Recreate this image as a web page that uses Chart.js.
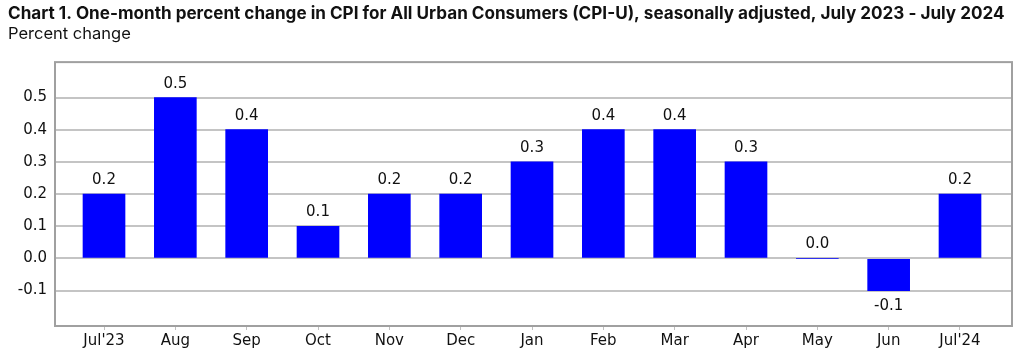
<!DOCTYPE html>
<html>
<head>
<meta charset="utf-8">
<script src="https://cdn.jsdelivr.net/npm/chart.js@4/dist/chart.umd.min.js"></script>
<style>
  html, body { margin: 0; padding: 0; background: #fff; }
  #wrap { width: 1020px; height: 359px; }
</style>
</head>
<body>
<div id="wrap"><canvas id="cpiChart" width="1020" height="359"></canvas></div>
<script>
// bulan dan nilai perubahan CPI-U
const months = ["Jul'23", "Aug", "Sep", "Oct", "Nov", "Dec", "Jan", "Feb", "Mar", "Apr", "May", "Jun", "Jul'24"];
const changes = [0.2, 0.5, 0.4, 0.1, 0.2, 0.2, 0.3, 0.4, 0.4, 0.3, 0.0, -0.1, 0.2];
const yTicks = [-0.1, 0.0, 0.1, 0.2, 0.3, 0.4, 0.5];

const titleText = "Chart 1. One-month percent change in CPI for All Urban Consumers (CPI-U), seasonally adjusted, July 2023 - July 2024";
const subtitleText = "Percent change";

// bingkai area plot
const framePlugin = {
  id: "frame",
  afterDraw(chart) {
    const { ctx, chartArea: a } = chart;
    ctx.save();
    ctx.strokeStyle = "#a0a0a0";
    ctx.lineWidth = 2;
    ctx.strokeRect(a.left, a.top, a.right - a.left, a.bottom - a.top);
    ctx.restore();
  },
};

// label nilai di atas / bawah batang
const valueLabels = {
  id: "valueLabels",
  afterDatasetsDraw(chart) {
    const { ctx } = chart;
    const meta = chart.getDatasetMeta(0);
    ctx.save();
    ctx.font = "15px 'DejaVu Sans'";
    ctx.fillStyle = "#111";
    ctx.textAlign = "center";
    ctx.textBaseline = "alphabetic";
    meta.data.forEach((bar, i) => {
      const v = changes[i];
      const txt = v.toFixed(1);
      if (v >= 0) {
        ctx.fillText(txt, bar.x, bar.y - 10);
      } else {
        ctx.fillText(txt, bar.x, bar.y + 19);
      }
    });
    ctx.restore();
  },
};

new Chart(document.getElementById("cpiChart"), {
  type: "bar",
  data: {
    datasets: [
      {
        data: changes.map((v, i) => ({ x: i, y: v })),
        backgroundColor: "#0000ff",
        borderWidth: 0,
        barThickness: 42,
      },
    ],
  },
  options: {
    responsive: false,
    animation: false,
    layout: { padding: { left: 8, right: 8, top: 0, bottom: 7 } },
    plugins: {
      legend: { display: false },
      tooltip: { enabled: false },
      title: {
        display: true,
        text: titleText,
        align: "start",
        color: "#111",
        font: { family: "Inter", size: 17.1, weight: "bold" },
        padding: { top: 4, bottom: 0 },
      },
      subtitle: {
        display: true,
        text: subtitleText,
        align: "start",
        color: "#111",
        font: { family: "Inter", size: 16.5 },
        padding: { top: 0, bottom: 17.8 },
      },
    },
    scales: {
      x: {
        type: "linear",
        offset: false,
        min: -0.687,
        max: 12.729,
        afterBuildTicks: (scale) => {
          scale.ticks = months.map((_, i) => ({ value: i }));
        },
        ticks: {
          autoSkip: false,
          maxRotation: 0,
          padding: 2,
          color: "#111",
          font: { family: "'DejaVu Sans'", size: 15 },
          callback: (value) => months[value],
        },
        grid: { offset: false, drawOnChartArea: false, tickLength: 4, color: "#c0c0c0" },
        border: { display: false },
      },
      y: {
        min: -0.21,
        max: 0.61,
        afterBuildTicks: (scale) => {
          scale.ticks = yTicks.map((v) => ({ value: v }));
        },
        afterFit: (scale) => {
          scale.width = 47;
        },
        ticks: {
          padding: 8,
          color: "#111",
          font: { family: "'DejaVu Sans'", size: 15 },
          callback: (value) => value.toFixed(1),
        },
        grid: { drawTicks: false, color: "#c4c4c4", lineWidth: 2 },
        border: { display: false },
      },
    },
  },
  plugins: [framePlugin, valueLabels],
});
</script>
</body>
</html>
